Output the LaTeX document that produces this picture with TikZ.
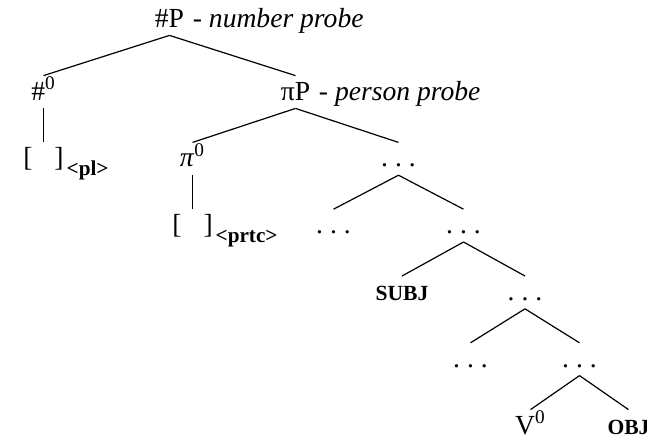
\documentclass[tikz,border=0pt]{standalone}
\usepackage{fontspec}
\setmainfont{Liberation Serif}

\newcommand{\featslot}[1]{[\hspace{11pt}]\rlap{\hspace{1.5pt}\raisebox{-4.5pt}{\fontsize{10.6}{12}\selectfont\bfseries <#1>}}}
\newcommand{\dotsnode}{.\hspace{3.5pt}.\hspace{3.5pt}.}

\tikzset{
    every node/.style={font=\fontsize{13.8}{16}\selectfont, text height=11pt, text depth=3pt, inner xsep=2pt, inner ysep=1pt},
    edge from parent/.style={draw, line width=0.6pt},
    parent anchor=south, child anchor=north,
    level 1/.style={level distance=36.5pt, sibling distance=126pt},
    level 2/.style={level distance=33.4pt, sibling distance=103pt},
    level 3/.style={sibling distance=65pt},
    level 4/.style={sibling distance=61.5pt},
    level 5/.style={sibling distance=54.5pt},
    level 6/.style={sibling distance=49pt},
    probe/.style={label={[label distance=0pt]right:{-\ \textit{#1}}}},
    argument/.style={font=\fontsize{10.8}{12}\selectfont\bfseries},
}

\begin{document}
\begin{tikzpicture}
    \useasboundingbox (0,0) rectangle (323.5pt,-223.5pt);
    \node [probe=number probe] (numP) at (84.75pt,-9.5pt) {\#P}
        child { node {\#\textsuperscript{0}}
            child { node {\featslot{pl}} }
        }
        child { node [probe=person probe] {πP}
            child { node {\textit{π}\textsuperscript{0}}
                child { node {\featslot{prtc}} }
            }
            child { node {\dotsnode}
                child { node {\dotsnode} }
                child { node {\dotsnode}
                    child { node [argument] {SUBJ} }
                    child { node {\dotsnode}
                        child { node {\dotsnode} }
                        child { node {\dotsnode}
                            child { node {V\textsuperscript{0}} }
                            child { node [argument] {OBJ} }
                        }
                    }
                }
            }
        };
\end{tikzpicture}
\end{document}
